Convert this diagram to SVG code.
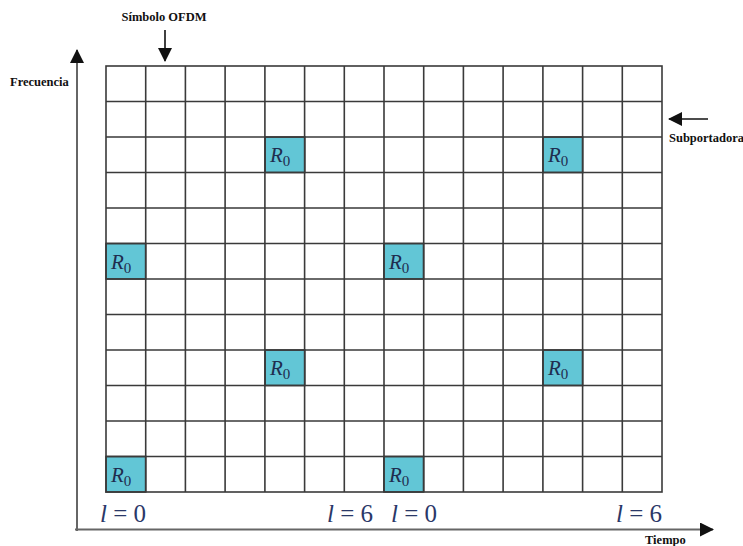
<svg xmlns="http://www.w3.org/2000/svg" width="743" height="546" viewBox="0 0 743 546">
<style>
.lbl{font-family:"Liberation Serif",serif;font-weight:bold;font-size:12.5px;fill:#111}
.grid{stroke:#3a3a3a;stroke-width:1.6;fill:none}
.r0{fill:#62c6d6;stroke:#3a3a3a;stroke-width:1.6}
.rt{font-family:"Liberation Serif",serif;font-size:21px;fill:#1f2d4f}
.lt{font-family:"Liberation Serif",serif;font-size:25px;fill:#2a3868}
.ax{stroke:#666;stroke-width:2;fill:none}
</style>
<defs>
<marker id="ah2" markerWidth="14" markerHeight="14" refX="13" refY="7" orient="auto" markerUnits="userSpaceOnUse" viewBox="0 0 14 14">
<path d="M0,0 L14,7 L0,14 z" fill="#111"/>
</marker>
</defs>
<rect width="743" height="546" fill="#fff"/>
<g id="pilots">
<rect class="r0" x="265.1" y="137" width="39.7" height="35.5"/>
<rect class="r0" x="543" y="137" width="39.7" height="35.5"/>
<rect class="r0" x="106" y="243.5" width="39.7" height="35.5"/>
<rect class="r0" x="383.9" y="243.5" width="39.7" height="35.5"/>
<rect class="r0" x="265.1" y="350" width="39.7" height="35.5"/>
<rect class="r0" x="543" y="350" width="39.7" height="35.5"/>
<rect class="r0" x="106" y="456.5" width="39.7" height="35.5"/>
<rect class="r0" x="383.9" y="456.5" width="39.7" height="35.5"/>
</g>
<g id="grid" class="grid">
<rect x="106" y="66" width="556" height="426"/>
<path d="M145.7,66V492M185.4,66V492M225.1,66V492M264.9,66V492M304.6,66V492M344.3,66V492M384,66V492M423.7,66V492M463.4,66V492M503.1,66V492M542.9,66V492M582.6,66V492M622.3,66V492"/>
<path d="M106,101.5H662M106,137H662M106,172.5H662M106,208H662M106,243.5H662M106,279H662M106,314.5H662M106,350H662M106,385.5H662M106,421H662M106,456.5H662"/>
</g>
<g id="pilot-labels" class="rt">
<text x="270" y="162"><tspan font-style="italic">R</tspan><tspan font-size="15" dy="4">0</tspan></text>
<text x="548" y="162"><tspan font-style="italic">R</tspan><tspan font-size="15" dy="4">0</tspan></text>
<text x="111" y="268.5"><tspan font-style="italic">R</tspan><tspan font-size="15" dy="4">0</tspan></text>
<text x="389" y="268.5"><tspan font-style="italic">R</tspan><tspan font-size="15" dy="4">0</tspan></text>
<text x="270" y="375"><tspan font-style="italic">R</tspan><tspan font-size="15" dy="4">0</tspan></text>
<text x="548" y="375"><tspan font-style="italic">R</tspan><tspan font-size="15" dy="4">0</tspan></text>
<text x="111" y="481.5"><tspan font-style="italic">R</tspan><tspan font-size="15" dy="4">0</tspan></text>
<text x="389" y="481.5"><tspan font-style="italic">R</tspan><tspan font-size="15" dy="4">0</tspan></text>
</g>
<g id="index-labels" class="lt">
<text x="100" y="522"><tspan font-style="italic">l</tspan> = 0</text>
<text x="327" y="522"><tspan font-style="italic">l</tspan> = 6</text>
<text x="391" y="522"><tspan font-style="italic">l</tspan> = 0</text>
<text x="616" y="522"><tspan font-style="italic">l</tspan> = 6</text>
</g>
<g id="connectors">
<path class="ax" d="M77,531V50" marker-end="url(#ah2)"/>
<path class="ax" d="M75,529.5H713" marker-end="url(#ah2)"/>
<path d="M165,30V61" stroke="#111" stroke-width="1.6" marker-end="url(#ah2)"/>
<path d="M708,119H669" stroke="#111" stroke-width="1.6" marker-end="url(#ah2)"/>
</g>
<g id="axis-labels">
<text class="lbl" x="164" y="21" text-anchor="middle">Símbolo OFDM</text>
<text class="lbl" x="10" y="86">Frecuencia</text>
<text class="lbl" x="669" y="142">Subportadora</text>
<text class="lbl" x="645" y="544">Tiempo</text>
</g>
</svg>
